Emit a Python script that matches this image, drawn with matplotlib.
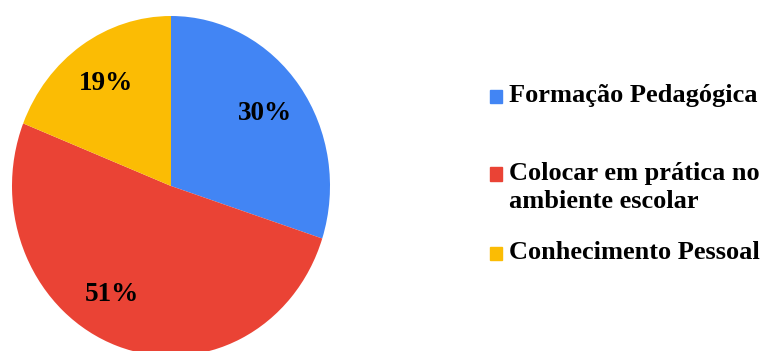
import matplotlib
matplotlib.use("Agg")
import matplotlib.pyplot as plt
from matplotlib.patches import Rectangle

labels = ["Formação Pedagógica", "Colocar em prática no\nambiente escolar", "Conhecimento Pessoal"]
shares = [30, 51, 19]
colors = ["#4285F4", "#EA4335", "#FBBC04"]

plt.rcParams["font.family"] = ["Liberation Serif", "DejaVu Serif"]

W, H = 761, 351
fig = plt.figure(figsize=(W / 100, H / 100), dpi=100)

# pie area in pixels (slightly taller than wide, bottom runs off the image)
left, right, top, bottom = 12, 330, 16, 356
ax = fig.add_axes([left / W, (H - bottom) / H, (right - left) / W, (bottom - top) / H])
wedges, texts, autotexts = ax.pie(
    shares, colors=colors, startangle=90, counterclock=False,
    autopct="%d%%", pctdistance=0.73,
    textprops=dict(fontsize=19.5, fontweight="bold", color="black"),
)
ax.set_aspect("auto")
ax.set_xlim(-1, 1)
ax.set_ylim(-1, 1)
# the big slice's label sits a bit further left in the original
autotexts[1].set_position((-0.37, -0.64))

# legend drawn by hand so the marker sits on the first line
rows_y = [96, 174, 253]
for lab, col, y in zip(labels, colors, rows_y):
    fig.patches.append(Rectangle(((490) / W, (H - y - 6.5) / H), 12 / W, 13 / H,
                                 transform=fig.transFigure, color=col))
    fig.text(509 / W, (H - y + 12) / H, lab, fontsize=19, fontweight="bold",
             va="top", ha="left", linespacing=1.3)

fig.savefig("out.png", dpi=100)
